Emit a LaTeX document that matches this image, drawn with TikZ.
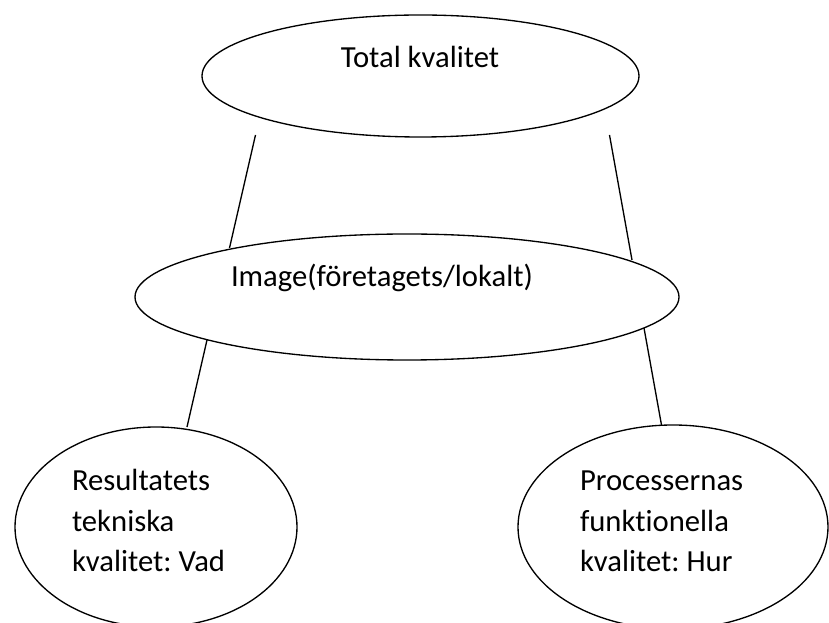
\documentclass[tikz,border=0pt]{standalone}
\usepackage{fontspec}
\setmainfont[Ligatures=NoCommon]{Carlito}
\frenchspacing
\usetikzlibrary{shapes}

\begin{document}
\begin{tikzpicture}[x=0.75pt,y=-0.75pt]
	\tikzstyle{every node}+=[inner sep=0pt, outer sep=0pt]
	\tikzstyle{oval}=[draw=black, line width=1pt, ellipse]
	\tikzstyle{txt}=[font=\fontsize{23}{30.75}\selectfont, align=left]
	\useasboundingbox (0,0) rectangle (829,623);
	\clip (0,0) rectangle (829,623);
	% ovals
	\node [oval, minimum width=327.75pt, minimum height=91.5pt] (total) at (420.5,76) {};
	\node [oval, minimum width=408pt, minimum height=94.5pt] (image) at (407,297) {};
	\node [oval, minimum width=211.5pt, minimum height=150pt] (resultat) at (156,527) {};
	\node [oval, minimum width=232.5pt, minimum height=153pt] (process) at (673,527) {};
	% texts
	\node [txt, anchor=base] (totaltxt) at (420,68) {Total kvalitet};
	\node [txt, anchor=base west] (imagetxt) at (231,287) {Image(företagets/lokalt)};
	\node [txt, anchor=base west] (resultattxt) at (72,572) {Resultatets\\tekniska\\kvalitet: Vad};
	\node [txt, anchor=base west] (processtxt) at (580,572) {Processernas\\funktionella\\kvalitet: Hur};
	% line ends
	\coordinate (tl) at (255.5,135);
	\coordinate (ml) at (229.5,248);
	\coordinate (tr) at (609.5,135);
	\coordinate (mr) at (632,260);
	\coordinate (il) at (207,340);
	\coordinate (rl) at (187,427);
	\coordinate (ir) at (644,328);
	\coordinate (pr) at (661.5,425);
	\draw [black, line width=1pt] (tl) -- (ml);
	\draw [black, line width=1pt] (tr) -- (mr);
	\draw [black, line width=1pt] (il) -- (rl);
	\draw [black, line width=1pt] (ir) -- (pr);
\end{tikzpicture}
\end{document}
